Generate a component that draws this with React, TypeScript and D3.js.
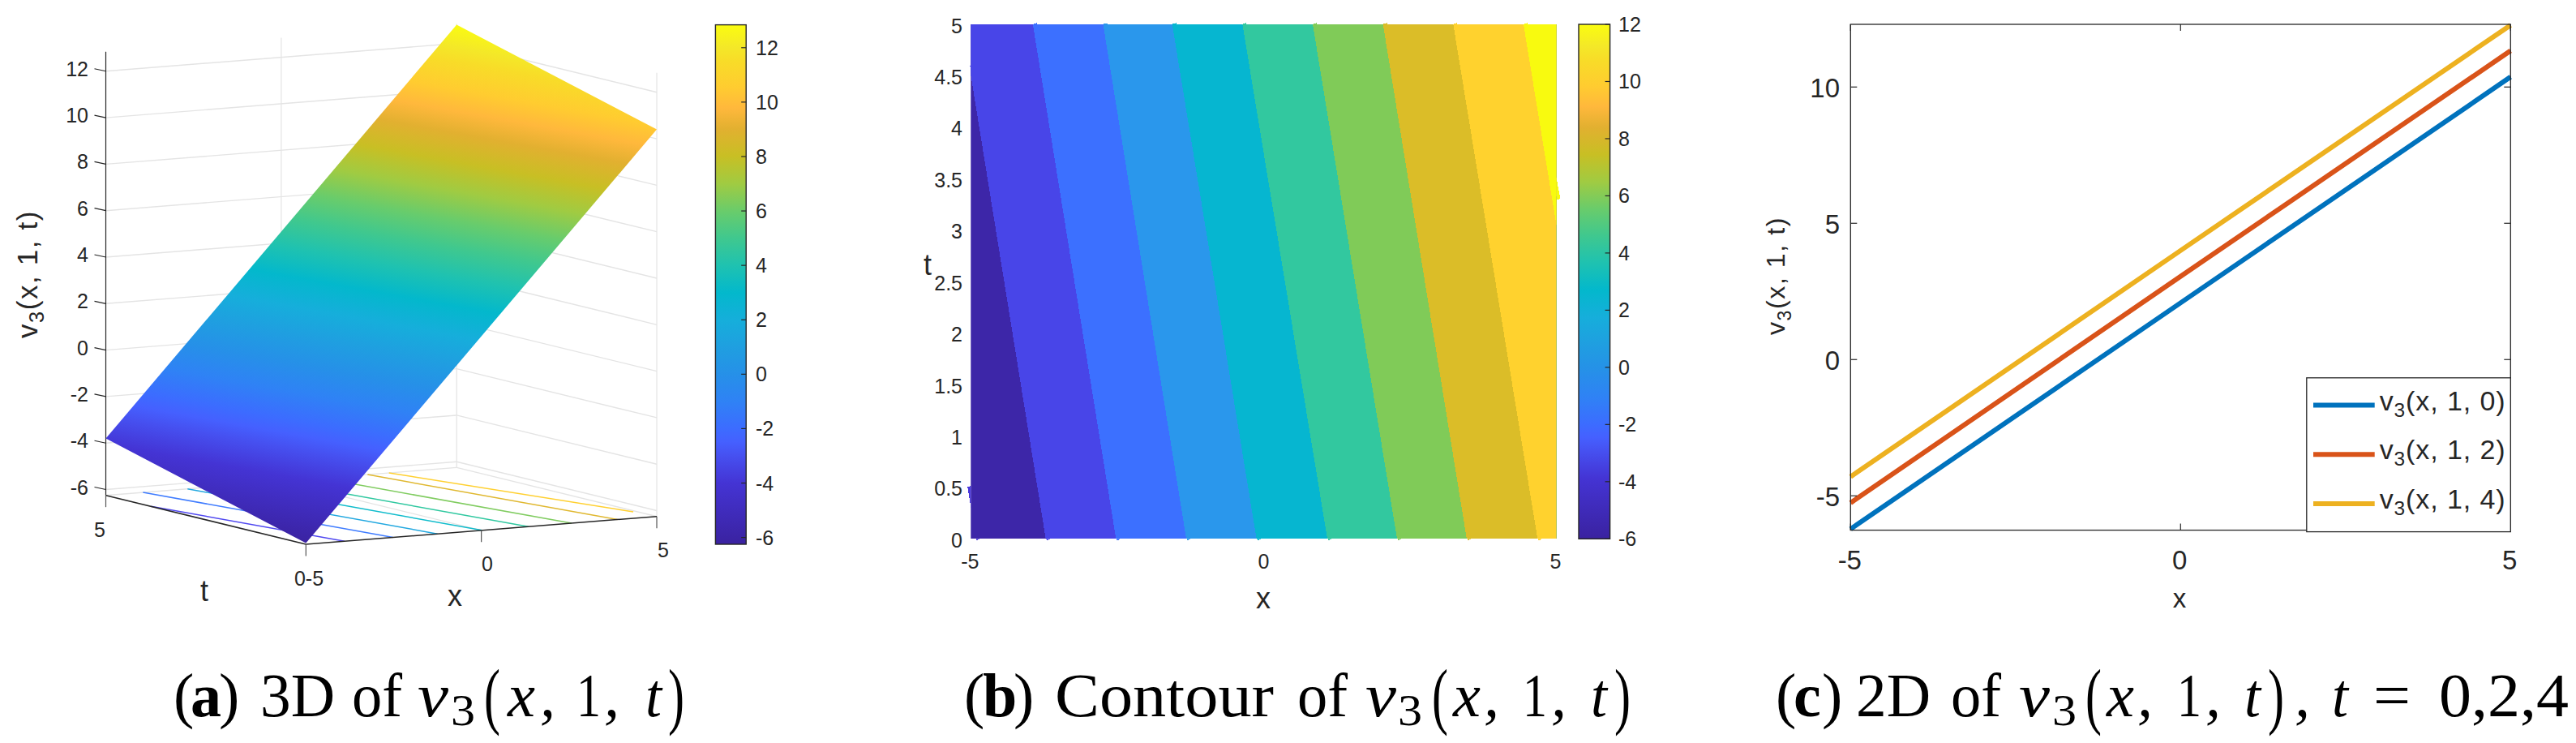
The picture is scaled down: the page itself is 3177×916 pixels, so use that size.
import React, { useRef, useEffect } from 'react';
import * as d3 from 'd3';

// colormap (fraction of the range -> colour)
const cmapFractions = [0, 0.118, 0.17, 0.197, 0.223, 0.275, 0.327, 0.38, 0.43, 0.484, 0.537, 0.59, 0.64, 0.694, 0.747, 0.8, 0.84, 0.88, 0.93, 0.957, 1];
const cmapColors = ['#3A22A0', '#4434D4', '#4650F0', '#4560FF', '#3C6CFF', '#2F82F5', '#2690E8', '#1F9FE0', '#16AEDB', '#03B8CC', '#1FC2B0', '#40C88E', '#68CC6C', '#A0CB42', '#C8BF24', '#E2B030', '#FFB83C', '#FFCC30', '#F8DC28', '#F4E828', '#FAFC10'];

// panel a
const zDomain = [-6.25, 12.84];
const zTicks = [-6, -4, -2, 0, 2, 4, 6, 8, 10, 12];
const surfaceZ = [[-6.2, 10.4], [-3.8, 12.8]]; // [t=0: x=-5, x=5], [t=5: x=-5, x=5]
const floorFromX = [-3.9, -2.52, -1.25, 0.02, 1.34, 2.57, 3.88, 4.9];
const floorFromT = [0, 0, 0, 0, 0, 0, 0, 0.5];
const floorToX = [-5, -3.94, -2.67, -1.4, -0.08, 1.15, 2.46, 3.07];
const floorToT = [3.87, 5, 5, 5, 5, 5, 5, 5];
const floorColors = ['#5048F0', '#3F7CFF', '#22A8E0', '#10BCCC', '#30C8A0', '#80CC60', '#E0B830', '#FFD030'];

// panel b
const bandColors = ['#3D26A8', '#4845E8', '#3C70FF', '#2A97EC', '#06B6D0', '#32C89F', '#80CB58', '#DBBD28', '#FFD22E', '#F8FA0F'];
const levelAtT0 = [-3.72, -2.52, -1.32, -0.12, 1.09, 2.28, 3.47, 4.68, 5.88];
const levelAtT5 = [-5.14, -3.94, -2.74, -1.56, -0.36, 0.84, 2.04, 3.24, 4.44];
const tTicks = [0, 0.5, 1, 1.5, 2, 2.5, 3, 3.5, 4, 4.5, 5];
const cbarTicks = [-6, -4, -2, 0, 2, 4, 6, 8, 10, 12];

// panel c
const lineX = [-5, 0, 5];
const lineT0 = [-6.22, 2.08, 10.37];
const lineT2 = [-5.26, 3.05, 11.33];
const lineT4 = [-4.3, 4.0, 12.27];
const lineColors = ['#0072BD', '#D95319', '#EDB120'];
const legendLabels = ['(x, 1, 0)', '(x, 1, 2)', '(x, 1, 4)'];

const SANS = '"Liberation Sans", Arial, sans-serif';
const SERIF = '"Liberation Serif", serif';
const INK = '#262626';
const GRID = '#E4E4E4';

type Sel = d3.Selection<any, unknown, null, undefined>;

const cmap = d3.scaleLinear<string>().domain(cmapFractions).range(cmapColors);

function label(g: Sel, x: number, y: number, text: string, size: number, anchor = 'middle') {
  g.append('text').attr('x', x).attr('y', y).attr('dy', '.36em')
    .attr('text-anchor', anchor).attr('font-family', SANS).attr('font-size', size)
    .attr('fill', INK).text(text);
}

// v3(x, 1, t) with real subscript
function v3Label(g: Sel, x: number, y: number, size: number, rest: string, spacing: number, rotate = false) {
  const t = g.append('text').attr('font-family', SANS).attr('font-size', size)
    .attr('fill', INK).attr('letter-spacing', spacing)
    .attr('transform', `translate(${x},${y})${rotate ? ' rotate(-90)' : ''}`);
  t.append('tspan').text('v');
  t.append('tspan').attr('font-size', size * 0.72).attr('dy', size * 0.24).text('3');
  t.append('tspan').attr('dy', -size * 0.24).text(rest);
}

function colorbar(svg: Sel, id: string, x0: number, x1: number, y0: number, y1: number, dom: number[], labelX: number, size: number) {
  const y = d3.scaleLinear().domain(dom).range([y0, y1]);
  const grad = svg.append('defs').append('linearGradient').attr('id', id)
    .attr('x1', 0).attr('x2', 0).attr('y1', 1).attr('y2', 0);
  cmapFractions.forEach(f => grad.append('stop').attr('offset', f).attr('stop-color', cmap(f)));
  svg.append('rect').attr('x', x0).attr('y', y1).attr('width', x1 - x0).attr('height', y0 - y1)
    .attr('fill', `url(#${id})`).attr('stroke', INK).attr('stroke-width', 1.4);
  cbarTicks.forEach(v => {
    svg.append('line').attr('x1', x1 - 6).attr('x2', x1).attr('y1', y(v)).attr('y2', y(v))
      .attr('stroke', INK).attr('stroke-width', 1.2);
    label(svg, labelX, y(v), String(v), size, 'start');
  });
}

function drawSurface(svg: Sel) {
  const xX = d3.scaleLinear().domain([-5, 5]).range([0, 432.7]);
  const xY = d3.scaleLinear().domain([-5, 5]).range([0, -34.3]);
  const tX = d3.scaleLinear().domain([0, 5]).range([0, -246.8]);
  const tY = d3.scaleLinear().domain([0, 5]).range([0, -60.3]);
  const zY = d3.scaleLinear().domain(zDomain).range([0, -547]);
  const px = (x: number, t: number) => 377.3 + xX(x) + tX(t);
  const py = (x: number, t: number, z: number) => 671 + xY(x) + tY(t) + zY(z);
  const [zMin, zMax] = zDomain;
  const seg = (a: number[], b: number[], color: string, w: number) =>
    svg.append('line').attr('x1', px(a[0], a[1])).attr('y1', py(a[0], a[1], a[2]))
      .attr('x2', px(b[0], b[1])).attr('y2', py(b[0], b[1], b[2]))
      .attr('stroke', color).attr('stroke-width', w);

  // walls
  zTicks.forEach(z => {
    seg([-5, 5, z], [5, 5, z], GRID, 1.4);
    seg([5, 5, z], [5, 0, z], GRID, 1.4);
  });
  seg([0, 5, zMin], [0, 5, zMax], GRID, 1.2);
  seg([5, 5, zMin], [5, 5, zMax], GRID, 1.2);
  seg([5, 0, zMin], [5, 0, zMax], GRID, 1.2);
  seg([-5, 5, zMin], [5, 5, zMin], GRID, 1.4);
  seg([5, 5, zMin], [5, 0, zMin], GRID, 1.4);
  seg([0, 0, zMin], [0, 5, zMin], GRID, 1.2);

  // contour lines on the floor
  floorFromX.forEach((x, i) => {
    seg([x, floorFromT[i], zMin], [floorToX[i], floorToT[i], zMin], floorColors[i], 1.5);
  });

  // axes
  seg([-5, 5, zMin], [-5, 0, zMin], INK, 1.5);
  seg([-5, 0, zMin], [5, 0, zMin], INK, 1.5);
  seg([-5, 5, zMin], [-5, 5, zMax], INK, 1.2);
  zTicks.forEach(z => {
    const x0 = px(-5, 5), y0 = py(-5, 5, z);
    svg.append('line').attr('x1', x0).attr('y1', y0).attr('x2', x0 - 14).attr('y2', y0 - 3)
      .attr('stroke', INK).attr('stroke-width', 1.2);
    label(svg, 109, y0 - 3, String(z), 25, 'end');
  });
  const floorTicks = [[-5, 5], [-5, 0], [0, 0], [5, 0]];
  floorTicks.forEach(([x, t]) => {
    svg.append('line').attr('x1', px(x, t)).attr('x2', px(x, t))
      .attr('y1', py(x, t, zMin)).attr('y2', py(x, t, zMin) + 14.5)
      .attr('stroke', '#555').attr('stroke-width', 1.2);
  });
  label(svg, 123, 653, '5', 25);
  label(svg, 381, 713, '0-5', 25);
  label(svg, 601, 695, '0', 25);
  label(svg, 818, 678, '5', 25);
  label(svg, 252, 728, 't', 36);
  label(svg, 561, 734, 'x', 36);
  v3Label(svg, 46, 417, 35, '(x, 1, t)', 1.6, true);

  // surface: colour is linear on screen for a plane, so one gradient does it
  const corners = [
    [-5, 0, surfaceZ[0][0]], [5, 0, surfaceZ[0][1]],
    [5, 5, surfaceZ[1][1]], [-5, 5, surfaceZ[1][0]],
  ];
  const pts = corners.map(([x, t, z]) => [px(x, t), py(x, t, z), z]);
  const [a, b, d] = [pts[0], pts[1], pts[3]];
  const det = (b[0] - a[0]) * (d[1] - a[1]) - (d[0] - a[0]) * (b[1] - a[1]);
  const gx = ((b[2] - a[2]) * (d[1] - a[1]) - (d[2] - a[2]) * (b[1] - a[1])) / det;
  const gy = ((b[0] - a[0]) * (d[2] - a[2]) - (d[0] - a[0]) * (b[2] - a[2])) / det;
  const g2 = gx * gx + gy * gy;
  const grad = svg.append('defs').append('linearGradient').attr('id', 'surf')
    .attr('gradientUnits', 'userSpaceOnUse')
    .attr('x1', a[0] + gx * (zMin - a[2]) / g2).attr('y1', a[1] + gy * (zMin - a[2]) / g2)
    .attr('x2', a[0] + gx * (zMax - a[2]) / g2).attr('y2', a[1] + gy * (zMax - a[2]) / g2);
  cmapFractions.forEach(f => grad.append('stop').attr('offset', f).attr('stop-color', cmap(f)));
  svg.append('path').attr('d', d3.line()(pts.map(p => [p[0], p[1]]) as [number, number][]) + 'Z')
    .attr('fill', 'url(#surf)');

  colorbar(svg, 'cbA', 882.4, 920.2, 671, 30.6, zDomain, 932, 25);
}

function drawContour(svg: Sel) {
  const x = d3.scaleLinear().domain([-5, 5]).range([1197.3, 1919.4]);
  const t = d3.scaleLinear().domain([0, 5]).range([664.3, 30]);
  const defs = svg.append('defs');
  defs.append('clipPath').attr('id', 'plotB').append('rect')
    .attr('x', x(-5)).attr('y', t(5)).attr('width', x(5) - x(-5)).attr('height', t(0) - t(5));
  // only the stubs of the level lines that stick out of the axes are visible
  defs.append('clipPath').attr('id', 'outB').append('path').attr('clip-rule', 'evenodd')
    .attr('d', `M1100,0H2000V800H1100Z M${x(-5)},${t(5)}V${t(0)}H${x(5)}V${t(5)}Z`);

  const plot = svg.append('g').attr('clip-path', 'url(#plotB)').attr('shape-rendering', 'crispEdges');
  bandColors.forEach((c, i) => {
    const x0 = i === 0 ? -7 : levelAtT0[i - 1];
    const x5 = i === 0 ? -7 : levelAtT5[i - 1];
    plot.append('path').attr('fill', c)
      .attr('d', `M${x(x0)},${t(0)}L${x(x5)},${t(5)}H${x(7)}V${t(0)}Z`);
  });

  const stubs = svg.append('g').attr('clip-path', 'url(#outB)').append('g')
    .attr('transform', 'translate(3,0)').attr('stroke-width', 4.2).attr('shape-rendering', 'crispEdges');
  levelAtT0.slice(0, 8).forEach((v, i) => {
    // extended 1px past the frame top and bottom; level -4 stops where it leaves at x=-5
    const endT = i === 0 ? 4.6 : 5.01;
    const endX = v + (levelAtT5[i] - v) * endT / 5;
    stubs.append('line').attr('x1', x(v)).attr('y1', t(-0.01)).attr('x2', x(endX)).attr('y2', t(endT))
      .attr('stroke', bandColors[i + 1]);
  });
  stubs.append('line').attr('x1', x(-4.92)).attr('y1', t(-0.01)).attr('x2', x(-5.07)).attr('y2', t(0.51))
    .attr('stroke', '#4A38DC');
  // level 12 leaves the frame on the right around t = 3.3
  stubs.append('line').attr('x1', x(5.0)).attr('y1', t(3.3)).attr('x2', x(4.44)).attr('y2', t(5.01))
    .attr('stroke', bandColors[9]);

  tTicks.forEach(v => label(svg, 1187, t(v) + 1.5, String(v), 25, 'end'));
  [-5, 0, 5].forEach(v => label(svg, x(v) - (v === 0 ? 0 : 1), 692, String(v), 25));
  label(svg, 1144, 326, 't', 36);
  label(svg, 1558, 737, 'x', 36);
  colorbar(svg, 'cbB', 1947, 1985.6, 664.3, 30, [-6, 12], 1996, 25);
}

function drawLines(svg: Sel) {
  const x = d3.scaleLinear().domain([-5, 5]).range([2282.3, 3096.3]);
  const y = d3.scaleLinear().domain([-6.26, 12.3]).range([653.6, 30]);
  const series = [lineT0, lineT2, lineT4];

  const line = d3.line<number>().x((_, i) => x(lineX[i])).y(d => y(d));
  series.forEach((s, i) => {
    svg.append('path').attr('d', line(s)).attr('fill', 'none')
      .attr('stroke', lineColors[i]).attr('stroke-width', 6);
  });

  svg.append('rect').attr('x', x(-5)).attr('y', y(12.3)).attr('width', x(5) - x(-5)).attr('height', y(-6.26) - y(12.3))
    .attr('fill', 'none').attr('stroke', INK).attr('stroke-width', 1.3);
  [-5, 0, 5, 10].forEach(v => {
    [[x(-5), 8], [x(5), -8]].forEach(([x0, d]) => {
      svg.append('line').attr('x1', x0).attr('x2', x0 + d).attr('y1', y(v)).attr('y2', y(v))
        .attr('stroke', INK).attr('stroke-width', 1.2);
    });
    label(svg, 2269, y(v) + 1, String(v), 33, 'end');
  });
  [-5, 0, 5].forEach(v => {
    [[y(12.3), 8], [y(-6.26), -8]].forEach(([y0, d]) => {
      svg.append('line').attr('x1', x(v)).attr('x2', x(v)).attr('y1', y0).attr('y2', y0 + d)
        .attr('stroke', INK).attr('stroke-width', 1.2);
    });
    label(svg, x(v) - 1, 690, String(v), 33);
  });
  label(svg, 2688, 737, 'x', 33);
  v3Label(svg, 2201, 413, 32, '(x, 1, t)', 1.6, true);

  // legend
  svg.append('rect').attr('x', 2844.8).attr('y', 465.8).attr('width', 251.5).attr('height', 189.8)
    .attr('fill', '#fff').attr('stroke', INK).attr('stroke-width', 1.3);
  const legendY = d3.scalePoint<number>().domain([0, 1, 2]).range([499.5, 621]);
  legendLabels.forEach((t, i) => {
    const ly = legendY(i)!;
    svg.append('line').attr('x1', 2853).attr('x2', 2928.7).attr('y1', ly).attr('y2', ly)
      .attr('stroke', lineColors[i]).attr('stroke-width', 6);
    v3Label(svg, 2934.7, ly + 6, 34, t, 0.9);
  });
}

// caption pieces: text, left edge, width in the reference, style
type Piece = [string, number, number, string?];
const captionA: Piece[] = [['(', 214, 0], ['a', 235, 0, 'b'], [')', 270, 0], ['3D', 321, 92], ['of', 434, 62], ['v', 515, 38, 'i'], ['3', 556, 30, 's'], ['(', 597, 20, 'p'], ['x', 626, 34, 'i'], [',', 666, 0, 'i'], ['1', 711, 30], [',', 745, 0, 'i'], ['t', 796, 20, 'i'], [')', 824, 20, 'p']];
const captionB: Piece[] = [['(', 1189, 0], ['b', 1212, 0, 'b'], [')', 1250, 0], ['Contour', 1301, 270], ['of', 1600, 62], ['v', 1684, 38, 'i'], ['3', 1724, 30, 's'], ['(', 1766, 20, 'p'], ['x', 1792, 34, 'i'], [',', 1830, 0, 'i'], ['1', 1878, 30], [',', 1913, 0, 'i'], ['t', 1962, 20, 'i'], [')', 1991, 20, 'p']];
const captionC: Piece[] = [['(', 2190, 0], ['c', 2212, 0, 'b'], [')', 2247, 0], ['2D', 2289, 92], ['of', 2406, 62], ['v', 2490, 38, 'i'], ['3', 2531, 30, 's'], ['(', 2572, 20, 'p'], ['x', 2598, 34, 'i'], [',', 2636, 0, 'i'], ['1', 2685, 30], [',', 2720, 0, 'i'], ['t', 2768, 20, 'i'], [')', 2797, 20, 'p'], [',', 2830, 0, 'i'], ['t', 2876, 20, 'i'], ['=', 2927, 46], ['0,2,4', 3008, 160]];

function drawCaption(svg: Sel, pieces: Piece[]) {
  pieces.forEach(([text, x, w, style]) => {
    const el = svg.append('text').attr('x', x).attr('y', style === 's' ? 894 : 883)
      .attr('font-family', SERIF).attr('fill', '#000')
      .attr('font-size', style === 's' ? 54 : style === 'p' ? 92 : 76)
      .text(text);
    if (style === 'p') el.attr('y', 888);
    if (style === 'b') el.attr('font-weight', 'bold');
    if (style === 'i') el.attr('font-style', 'italic');
    if (w > 0) el.attr('textLength', w).attr('lengthAdjust', 'spacingAndGlyphs');
  });
}

export default function App() {
  const svgRef = useRef<SVGSVGElement>(null);

  useEffect(() => {
    if (!svgRef.current) return;
    const svg = d3.select(svgRef.current) as unknown as Sel;
    svg.selectAll('*').remove();
    drawSurface(svg);
    drawContour(svg);
    drawLines(svg);
    drawCaption(svg, captionA);
    drawCaption(svg, captionB);
    drawCaption(svg, captionC);
  }, []);

  return (
    <svg
      ref={svgRef}
      width={3177}
      height={916}
      style={{ position: 'absolute', left: 0, top: 0, background: '#fff' }}
    />
  );
}
